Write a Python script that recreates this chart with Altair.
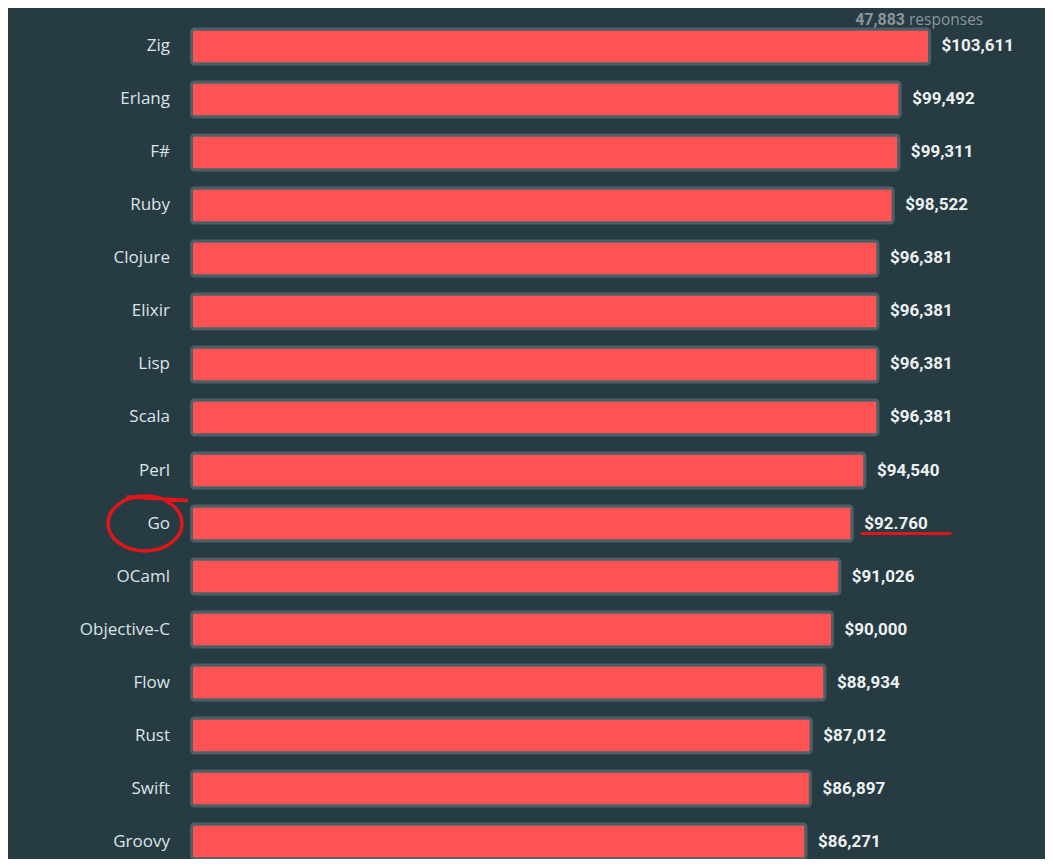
import altair as alt
import pandas as pd

languages = ["Zig", "Erlang", "F#", "Ruby", "Clojure", "Elixir", "Lisp", "Scala",
             "Perl", "Go", "OCaml", "Objective-C", "Flow", "Rust", "Swift", "Groovy"]
salaries = [103611, 99492, 99311, 98522, 96381, 96381, 96381, 96381,
            94540, 92760, 91026, 90000, 88934, 87012, 86897, 86271]
salary_labels = ["$103,611", "$99,492", "$99,311", "$98,522", "$96,381", "$96,381",
                 "$96,381", "$96,381", "$94,540", "$92.760", "$91,026", "$90,000",
                 "$88,934", "$87,012", "$86,897", "$86,271"]
response_count = "47,883"
response_word = "responses"
highlight = "Go"

df = pd.DataFrame({"language": languages, "salary": salaries, "label": salary_labels})

BG = "#263b42"
RED = "#ff5252"
EDGE = "#4e6067"
MARK = "#e0161b"

y_enc = alt.Y(
    "language:N",
    sort=languages,
    scale=alt.Scale(domain=languages, paddingInner=0.34, paddingOuter=0),
    axis=alt.Axis(title=None, domain=False, ticks=False, grid=False, labelPadding=22,
                  labelFont="Open Sans", labelFontSize=17, labelColor="#dde4e7"),
)
x_enc = alt.X("salary:Q", scale=alt.Scale(domain=[0, max(salaries)], nice=False, zero=True), axis=None)

base = alt.Chart(df)

bars = base.mark_bar(color=RED, stroke=EDGE, strokeWidth=3, cornerRadius=3).encode(x=x_enc, y=y_enc)

labels = base.mark_text(align="left", baseline="middle", dx=12, font="Roboto",
                        fontWeight="bold", fontSize=17, color="#edf1f2").encode(
    x=x_enc, y=y_enc, text="label:N")

ELLIPSE = "M-1,0A1,0.74 0 1,1 1,0A1,0.74 0 1,1 -1,0M-0.5,-0.72L1.16,-0.62"
circle = base.transform_filter(alt.datum.language == highlight).mark_point(
    shape=ELLIPSE, size=5476, filled=False, stroke=MARK, strokeWidth=3.5, opacity=1
).encode(x=alt.value(-46.5), y=y_enc)

underline = base.transform_filter(alt.datum.language == highlight).mark_rule(
    color=MARK, strokeWidth=3, xOffset=10, x2Offset=98, yOffset=10, strokeCap="round"
).encode(x=x_enc, x2="salary:Q", y=y_enc)

hdr = alt.Chart(pd.DataFrame({"count": [response_count], "word": [response_word]}))
hdr_count = hdr.mark_text(align="right", baseline="middle", font="Roboto", fontWeight="bold",
                          fontSize=16, color="#8a969b").encode(
    x=alt.value(713.5), y=alt.value(-9), text="count:N")
hdr_word = hdr.mark_text(align="left", baseline="middle", font="Open Sans",
                         fontSize=15.5, color="#8a969b").encode(
    x=alt.value(717.5), y=alt.value(-9), text="word:N")

chart = alt.layer(bars, labels, circle, underline, hdr_count, hdr_word).properties(
    width=738,
    height=830,
    autosize=alt.AutoSizeParams(type="none"),
    padding={"left": 183.5, "top": 21, "right": 115.5, "bottom": 0},
    background=BG,
).configure_view(stroke=None)

chart.save("out.html", embed_options={"renderer": "svg", "actions": False})
